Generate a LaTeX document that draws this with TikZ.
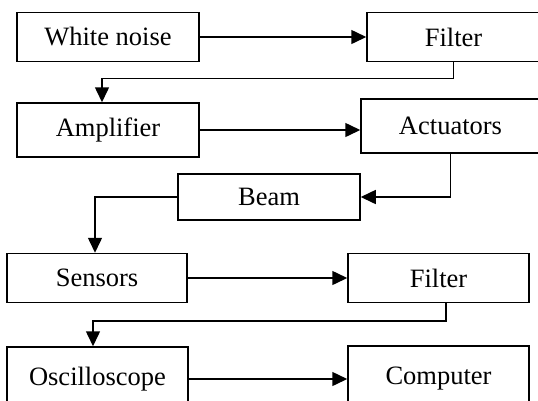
\documentclass[tikz,border=0pt]{standalone}
\usepackage{fontspec}
\setmainfont{Liberation Serif}
\usetikzlibrary{arrows.meta,calc}

\begin{document}
\begin{tikzpicture}[x=1pt,y=-1pt,
    blk/.style={draw, line width=1.5pt, inner sep=0pt,
        font=\fontsize{26.5}{30}\selectfont},
    flow/.style={-{Triangle[length=15pt,width=14pt]}, line width=1.5pt}]
\useasboundingbox (0,0) rectangle (538,400);

\node (noise) [blk, minimum width=182pt, minimum height=49pt] at (108,37) {White noise};
\node (filtA) [blk, minimum width=173pt, minimum height=49pt] at (453.5,37) {Filter};
\node (amp) [blk, minimum width=182pt, minimum height=54pt] at (108,130) {Amplifier};
\node (act) [blk, minimum width=179pt, minimum height=54pt] at (450.5,126) {Actuators};
\node (beam) [blk, minimum width=182pt, minimum height=46pt] at (269,197) {Beam};
\node (sens) [blk, minimum width=180pt, minimum height=49pt] at (97,278) {Sensors};
\node (filtB) [blk, minimum width=181pt, minimum height=49pt] at (438.5,278) {Filter};
\node (osc) [blk, minimum width=181pt, minimum height=64pt] at (97.5,379) {Oscilloscope};
\node (comp) [blk, minimum width=181pt, minimum height=66pt] at (438.5,379) {Computer};

    % left to right in each row
    \foreach \a/\b in {noise/filtA, amp/act, sens/filtB, osc/comp}
    \draw [flow] (\a.east) -- (\a.east -| \b.west);

    % down to the next row
    \draw [flow] (filtA.south) -- ++(0,16) -| ([xshift=-6pt]amp.north);
    \draw [flow] (act.south) |- (beam.east);
    \draw [flow] (beam.west) -| ([xshift=-2pt]sens.north);
    \draw [flow] ([xshift=7.5pt]filtB.south) -- ++(0,17.5) -| ([xshift=-4.5pt]osc.north);

\end{tikzpicture}
\end{document}
